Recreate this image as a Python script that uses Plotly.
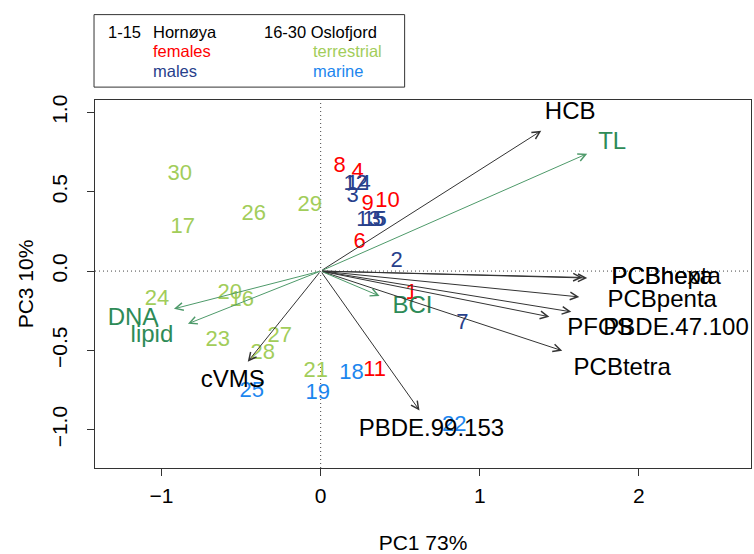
import plotly.graph_objects as go

# ---- sample scores (PC1, PC3) ----
ids = [str(i) for i in range(1, 31)]
pc1 = [0.571, 0.477, 0.200, 0.232, 0.364, 0.245, 0.890, 0.119, 0.295, 0.420,
       0.339, 0.220, 0.300, 0.238, 0.339, -0.496, -0.866, 0.194, -0.019, -0.571,
       -0.031, 0.840, -0.646, -1.029, -0.433, -0.420, -0.257, -0.364, -0.069, -0.885]
pc3 = [-0.144, 0.063, 0.470, 0.620, 0.320, 0.180, -0.330, 0.658, 0.420, 0.440,
       -0.627, 0.545, 0.320, 0.545, 0.320, -0.188, 0.276, -0.646, -0.771, -0.144,
       -0.633, -0.970, -0.439, -0.176, -0.759, 0.357, -0.414, -0.520, 0.414, 0.608]
group = ["F", "M", "M", "F", "M", "F", "M", "F", "F", "F",
         "F", "M", "M", "M", "M", "T", "T", "S", "S", "T",
         "T", "S", "T", "T", "S", "T", "T", "T", "T", "T"]
group_colors = {"F": "#FF0000", "M": "#27408B", "T": "#A2CD5A", "S": "#1C86EE"}

# ---- variable loadings (arrow tips) and label positions ----
var_names = ["HCB", "TL", "PCBhexa", "PCBhepta", "PCBpenta", "PFOS", "PBDE.47.100",
             "PCBtetra", "BCI", "PBDE.99.153", "cVMS", "DNA", "lipid"]
tip_x = [1.386, 1.675, 1.645, 1.675, 1.625, 1.437, 1.575, 1.518, 0.370, 0.621, -0.458, -0.922, -0.834]
tip_y = [0.884, 0.740, -0.040, -0.044, -0.163, -0.288, -0.257, -0.502, -0.157, -0.878, -0.571, -0.238, -0.332]
lab_x = [1.568, 1.832, 2.146, 2.171, 2.146, 1.755, 2.233, 1.895, 0.577, 0.696, -0.552, -1.179, -1.060]
lab_y = [0.997, 0.809, -0.044, -0.044, -0.188, -0.364, -0.364, -0.614, -0.226, -1.003, -0.690, -0.301, -0.408]
var_kind = ["c", "b", "c", "c", "c", "c", "c", "c", "b", "c", "c", "b", "b"]
arrow_colors = {"c": "#333333", "b": "#4E9A6A"}
label_colors = {"c": "#000000", "b": "#2E8B57"}

# ---- legend text ----
legend_items = [
    ("1-15", 0.0167, 1.186, "#000000"),
    ("Hornøya", 0.0852, 1.186, "#000000"),
    ("16-30 Oslofjord", 0.254, 1.186, "#000000"),
    ("females", 0.0852, 1.132, "#FF0000"),
    ("males", 0.0852, 1.078, "#27408B"),
    ("terrestrial", 0.330, 1.132, "#A2CD5A"),
    ("marine", 0.330, 1.078, "#1C86EE"),
]

FONT = "Liberation Sans, Arial, sans-serif"

fig = go.Figure()

fig.add_trace(go.Scatter(
    x=pc1, y=pc3, mode="text", text=ids,
    textposition="middle center",
    textfont=dict(family=FONT, size=22, color=[group_colors[g] for g in group]),
    hoverinfo="skip", showlegend=False,
))

fig.add_trace(go.Scatter(
    x=lab_x, y=lab_y, mode="text", text=var_names,
    textposition="middle center",
    textfont=dict(family=FONT, size=24, color=[label_colors[k] for k in var_kind]),
    hoverinfo="skip", showlegend=False,
))

for tx, ty, k in zip(tip_x, tip_y, var_kind):
    fig.add_annotation(
        x=tx, y=ty, ax=0, ay=0, xref="x", yref="y", axref="x", ayref="y",
        text="", showarrow=True, arrowhead=5, arrowsize=1.5, arrowwidth=1,
        arrowcolor=arrow_colors[k], standoff=0, startstandoff=0,
    )

for txt, lx, ly, col in legend_items:
    fig.add_annotation(
        x=lx, y=ly, xref="paper", yref="paper", text=txt, showarrow=False,
        xanchor="left", yanchor="middle", font=dict(family=FONT, size=16.5, color=col),
    )

fig.add_shape(type="rect", xref="paper", yref="paper", x0=-0.0015, x1=0.472, y0=1.035, y1=1.232,
              line=dict(color="#333333", width=1))

fig.add_shape(type="line", xref="x", yref="paper", x0=0, x1=0, y0=0, y1=1,
              line=dict(color="#444444", width=1, dash="1px,3px"), layer="below")
fig.add_shape(type="line", xref="paper", yref="y", x0=0, x1=1, y0=0, y1=0,
              line=dict(color="#444444", width=1, dash="1px,3px"), layer="below")

fig.update_layout(
    width=754, height=554,
    margin=dict(l=95, r=2, t=100, b=84),
    paper_bgcolor="white", plot_bgcolor="white",
    font=dict(family=FONT, color="#000000"),
    xaxis=dict(
        range=[-1.418, 2.704], tickvals=[-1, 0, 1, 2], ticks="outside", ticklen=7,
        tickcolor="#333333", showline=True, mirror=True, linecolor="#333333", linewidth=1,
        showgrid=False, zeroline=False, tickfont=dict(size=21), ticklabelstandoff=2,
        title=dict(text="PC1 73%", font=dict(size=21), standoff=30),
    ),
    yaxis=dict(
        range=[-1.241, 1.078], tickvals=[-1.0, -0.5, 0.0, 0.5, 1.0], ticktext=["−1.0", "−0.5", "0.0", "0.5", "1.0"],
        ticks="outside", ticklen=7, tickangle=-90, ticklabelstandoff=12,
        tickcolor="#333333", showline=True, mirror=True, linecolor="#333333", linewidth=1,
        showgrid=False, zeroline=False, tickfont=dict(size=21),
        title=dict(text="PC3 10%", font=dict(size=21), standoff=8),
    ),
)

fig.write_html("out.html")
